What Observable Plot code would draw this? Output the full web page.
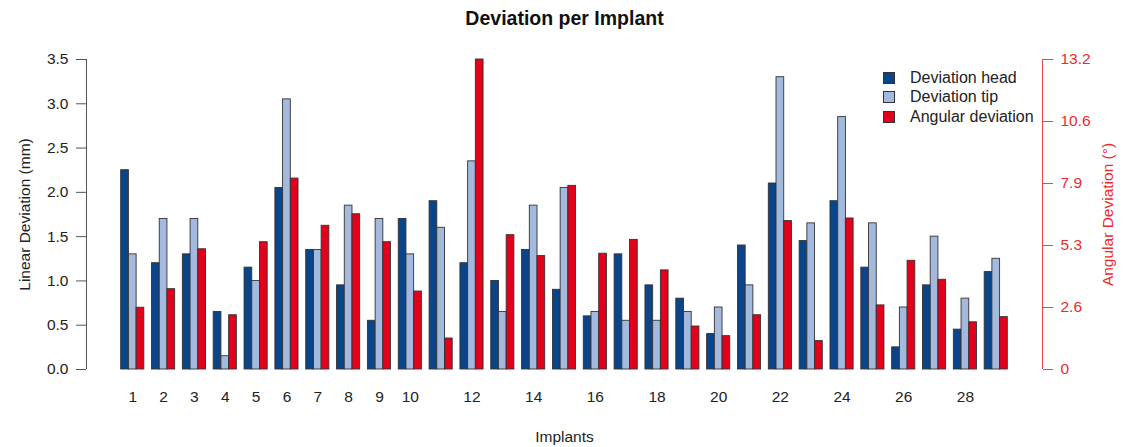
<!DOCTYPE html>
<html>
<head>
<meta charset="utf-8">
<script src="https://cdn.jsdelivr.net/npm/d3@7"></script>
<script src="https://cdn.jsdelivr.net/npm/@observablehq/plot@0.6"></script>
<style>
  html, body { margin: 0; padding: 0; background: #fff; }
  #wrap { position: relative; width: 1123px; height: 447px; font-family: "Liberation Sans", Arial, Helvetica, sans-serif; }
  #legend { position: absolute; left: 883px; top: 68px; font-size: 16px; color: #222; }
  .row { display: flex; align-items: center; height: 19.5px; }
  .sw { width: 10px; height: 10px; border: 1px solid #333; margin-right: 15px; }
</style>
</head>
<body>
<div id="wrap"><div id="legend"></div></div>
<script>
const implants = [1,2,3,4,5,6,7,8,9,10,11,12,13,14,15,16,17,18,19,20,21,22,23,24,25,26,27,28,29];
const deviationHead = [2.25,1.2,1.3,0.65,1.15,2.05,1.35,0.95,0.55,1.7,1.9,1.2,1.0,1.35,0.9,0.6,1.3,0.95,0.8,0.4,1.4,2.1,1.45,1.9,1.15,0.25,0.95,0.45,1.1];
const deviationTip = [1.3,1.7,1.7,0.15,1.0,3.05,1.35,1.85,1.7,1.3,1.6,2.35,0.65,1.85,2.05,0.65,0.55,0.55,0.65,0.7,0.95,3.3,1.65,2.85,1.65,0.7,1.5,0.8,1.25];
const angularDeviation = [2.63,3.42,5.12,2.31,5.42,8.13,6.12,6.61,5.42,3.32,1.32,13.2,5.72,4.83,7.82,4.93,5.52,4.22,1.83,1.42,2.31,6.32,1.21,6.43,2.73,4.63,3.82,2.01,2.23];
const seriesNames = ["Deviation head","Deviation tip","Angular deviation"];
const seriesColors = ["#0b4589","#a3b9dd","#e2001a"];
const xTickLabels = [1,2,3,4,5,6,7,8,9,10,12,14,16,18,20,22,24,26,28];
const linearTicks = [0,0.5,1.0,1.5,2.0,2.5,3.0,3.5];
const angularTicks = [0,2.64,5.28,7.92,10.56,13.2];
const angularTickLabels = ["0","2.6","5.3","7.9","10.6","13.2"];
const linearMax = 3.5, angularMax = 13.2;
const toLinear = a => a * linearMax / angularMax;

const rows = [];
implants.forEach((imp, i) => {
  rows.push({implant: imp, k: 0, series: seriesNames[0], value: deviationHead[i]});
  rows.push({implant: imp, k: 1, series: seriesNames[1], value: deviationTip[i]});
  rows.push({implant: imp, k: 2, series: seriesNames[2], value: toLinear(angularDeviation[i])});
});

const barW = 0.25;
const chart = Plot.plot({
  width: 1123,
  height: 447,
  marginLeft: 86,
  marginRight: 81,
  marginTop: 59,
  marginBottom: 78,
  style: {fontFamily: '"Liberation Sans", Arial, Helvetica, sans-serif', fontSize: "15.5px", color: "#222", background: "#fff"},
  x: {domain: [-0.5, 30.5], axis: null},
  y: {domain: [0, linearMax], axis: null},
  color: {domain: seriesNames, range: seriesColors},
  marks: [
    Plot.rect(rows, {
      x1: d => d.implant - 1.5 * barW + d.k * barW,
      x2: d => d.implant - 0.5 * barW + d.k * barW,
      y1: 0, y2: "value",
      fill: "series", stroke: "#333", strokeWidth: 0.9
    }),
    Plot.ruleX([-0.5], {y1: 0, y2: linearMax, stroke: "#555"}),
    Plot.axisY({anchor: "left", ticks: linearTicks, tickFormat: d => d.toFixed(1), tickSize: 10, tickPadding: 8, stroke: "#555", fill: "#222",
      label: "Linear Deviation (mm)", labelAnchor: "center", labelOffset: 68, labelArrow: false}),
    Plot.ruleX([30.5], {y1: 0, y2: linearMax, stroke: "#f04545"}),
    Plot.axisY({anchor: "right", ticks: angularTicks.map(toLinear), tickFormat: (d, i) => angularTickLabels[i], tickSize: 10, tickPadding: 8,
      stroke: "#f04545", fill: "#ee2a2a", label: "Angular Deviation (°)", labelAnchor: "center", labelOffset: 70, labelArrow: false}),
    Plot.axisX({anchor: "bottom", ticks: xTickLabels, tickSize: 0, tickPadding: 21, fill: "#222",
      label: "Implants", labelAnchor: "center", labelOffset: 72, labelArrow: false}),
    Plot.text(["Deviation per Implant"], {frameAnchor: "top", dy: -41, lineAnchor: "middle", fontWeight: "bold", fontSize: 19.5, fill: "#111"})
  ]
});
document.getElementById("wrap").prepend(chart);

const legend = document.getElementById("legend");
seriesNames.forEach((n, i) => {
  const r = document.createElement("div");
  r.className = "row";
  const s = document.createElement("div");
  s.className = "sw";
  s.style.background = seriesColors[i];
  r.appendChild(s);
  r.appendChild(document.createTextNode(n));
  legend.appendChild(r);
});
</script>
</body>
</html>
